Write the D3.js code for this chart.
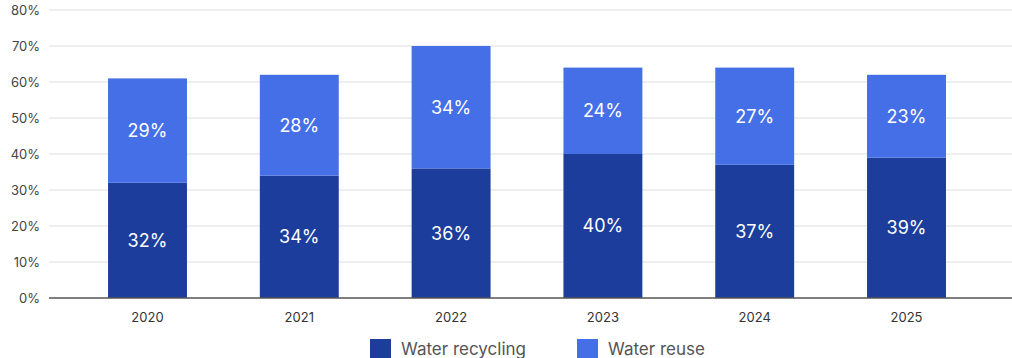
<!DOCTYPE html>
<html>
<head>
<meta charset="utf-8">
<script src="https://cdn.jsdelivr.net/npm/d3@7"></script>
<style>
  body { margin: 0; background: #fff; }
  svg { display: block; font-family: Inter, "Open Sans", sans-serif; }
</style>
</head>
<body>
<svg width="1012" height="358"></svg>
<script>
const years = ['2020', '2021', '2022', '2023', '2024', '2025'];
const recycling = [32, 34, 36, 40, 37, 39];
const reuse = [29, 28, 34, 24, 27, 23];
const yTicks = [0, 10, 20, 30, 40, 50, 60, 70, 80];
const seriesNames = ['Water recycling', 'Water reuse'];
const colors = ['#1c3d9c', '#456fe6'];

const svg = d3.select('svg');
const plotLeft = 49, plotRight = 1012;

const x = d3.scaleBand().domain(years).range([71.6, 982.4]).paddingInner(0.48).paddingOuter(0.24);
const y = d3.scaleLinear().domain([0, 80]).range([298, 10]);

// gridlines
svg.append('g')
  .selectAll('line')
  .data(yTicks.filter(d => d > 0))
  .join('line')
  .attr('x1', plotLeft).attr('x2', plotRight)
  .attr('y1', d => y(d)).attr('y2', d => y(d))
  .attr('stroke', '#dedede').attr('stroke-width', 1);

// y labels
svg.append('g')
  .selectAll('text')
  .data(yTicks)
  .join('text')
  .attr('x', 40).attr('y', d => y(d)).attr('dy', '0.35em')
  .attr('text-anchor', 'end')
  .attr('fill', '#444').style('font-size', '13px')
  .text(d => d + '%');

const rows = years.map((yr, i) => ({ year: yr, recycling: recycling[i], reuse: reuse[i] }));
const stacked = d3.stack().keys(['recycling', 'reuse'])(rows);

const groups = svg.append('g')
  .selectAll('g')
  .data(stacked)
  .join('g')
  .attr('fill', (d, i) => colors[i]);

groups.selectAll('rect')
  .data(d => d)
  .join('rect')
  .attr('x', d => x(d.data.year))
  .attr('width', x.bandwidth())
  .attr('y', d => y(d[1]))
  .attr('height', d => y(d[0]) - y(d[1]));

groups.selectAll('text')
  .data(d => d)
  .join('text')
  .attr('x', d => x(d.data.year) + x.bandwidth() / 2)
  .attr('y', d => (y(d[0]) + y(d[1])) / 2)
  .attr('dy', '0.35em')
  .attr('text-anchor', 'middle')
  .attr('fill', '#fff')
  .style('font-size', '18px')
  .text(d => (d[1] - d[0]) + '%');

// baseline
svg.append('line')
  .attr('x1', plotLeft).attr('x2', plotRight)
  .attr('y1', y(0)).attr('y2', y(0))
  .attr('stroke', '#555').attr('stroke-width', 1.5);

// x labels
svg.append('g')
  .selectAll('text')
  .data(years)
  .join('text')
  .attr('x', d => x(d) + x.bandwidth() / 2)
  .attr('y', 317).attr('dy', '0.35em')
  .attr('text-anchor', 'middle')
  .attr('fill', '#333').style('font-size', '13px')
  .text(d => d);

// legend
const legendX = [370, 577];
const legend = svg.append('g')
  .selectAll('g')
  .data(seriesNames)
  .join('g')
  .attr('transform', (d, i) => `translate(${legendX[i]},339)`);
legend.append('rect').attr('width', 21).attr('height', 19).attr('fill', (d, i) => colors[i]);
legend.append('text')
  .attr('x', 31).attr('y', 10).attr('dy', '0.35em')
  .attr('fill', '#555').style('font-size', '17px')
  .text(d => d);
</script>
</body>
</html>
